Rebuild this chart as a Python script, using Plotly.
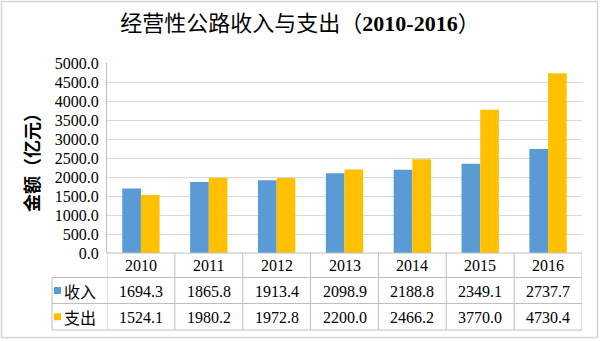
import plotly.graph_objects as go

years = ["2010", "2011", "2012", "2013", "2014", "2015", "2016"]
income = [1694.3, 1865.8, 1913.4, 2098.9, 2188.8, 2349.1, 2737.7]
expense = [1524.1, 1980.2, 1972.8, 2200.0, 2466.2, 3770.0, 4730.4]
series_names = ["收入", "支出"]
colors = ["#5B9BD5", "#FFC000"]
yticks = [0, 500, 1000, 1500, 2000, 2500, 3000, 3500, 4000, 4500, 5000]

W, H = 600, 341
L, R, T, B = 107, 18, 63, 88
PW, PH = W - L - R, H - T - B


def px(X):
    return (X - L) / PW


def py(Y):
    return (H - B - Y) / PH


serif = "Liberation Serif"
cjk = "Noto Sans CJK SC"
mixed = "Liberation Serif, Noto Sans CJK SC"

fig = go.Figure()
for name, vals, c in zip(series_names, [income, expense], colors):
    fig.add_trace(go.Bar(x=years, y=vals, name=name, marker=dict(color=c, line=dict(width=0))))

line_col = "#bfbfbf"
shapes = []
row_y = [253, 277.5, 303.5, 330]
left_x = 52
for i, yy in enumerate(row_y):
    x0 = px(L) if i == 0 else px(left_x)
    shapes.append(dict(type="line", xref="paper", yref="paper", x0=x0, x1=1, y0=py(yy), y1=py(yy),
                       line=dict(color=line_col, width=1)))
for k in range(len(years) + 1):
    shapes.append(dict(type="line", xref="x", yref="paper", x0=k - 0.5, x1=k - 0.5,
                       y0=py(row_y[0]), y1=py(row_y[-1]), line=dict(color=line_col, width=1)))
shapes.append(dict(type="line", xref="paper", yref="paper", x0=px(left_x), x1=px(left_x),
                   y0=py(row_y[1]), y1=py(row_y[-1]), line=dict(color=line_col, width=1)))
for j, c in enumerate(colors):
    yc = (row_y[j + 1] + row_y[j + 2]) / 2
    shapes.append(dict(type="rect", xref="paper", yref="paper", x0=px(54), x1=px(61),
                       y0=py(yc + 3.5), y1=py(yc - 3.5), fillcolor=c, line=dict(width=0)))
shapes.append(dict(type="rect", xref="paper", yref="paper", x0=px(1.5), x1=px(597.5),
                   y0=py(337.5), y1=py(1.5), line=dict(color="#d4d4d4", width=1.5)))

annotations = []
for i, yr in enumerate(years):
    annotations.append(dict(x=i, xref="x", yref="paper", y=py((row_y[0] + row_y[1]) / 2 + 0.5),
                            xanchor="center", yanchor="middle",
                            text=yr, showarrow=False, font=dict(family=serif, size=16, color="#000")))
    for j, vals in enumerate([income, expense]):
        annotations.append(dict(x=i, xref="x", yref="paper",
                                y=py((row_y[j + 1] + row_y[j + 2]) / 2 + 0.5),
                                xanchor="center", yanchor="middle",
                                text=f"{vals[i]:.1f}", showarrow=False,
                                font=dict(family=serif, size=16, color="#000")))
for j, n in enumerate(series_names):
    annotations.append(dict(x=px(62), xref="paper", yref="paper", xanchor="left", yanchor="middle",
                            y=py((row_y[j + 1] + row_y[j + 2]) / 2),
                            text=n, showarrow=False, font=dict(family=cjk, size=16, color="#000")))
annotations.append(dict(x=px(31), y=py(158), xref="paper", yref="paper", text="<b>金额（亿元）</b>",
                        xanchor="center", yanchor="middle",
                        textangle=-90, showarrow=False, font=dict(family=cjk, size=18, color="#000")))

fig.update_layout(
    width=W, height=H,
    margin=dict(l=L, r=R, t=T, b=B),
    paper_bgcolor="white", plot_bgcolor="white",
    barmode="group", bargap=0.45, bargroupgap=0,
    showlegend=False,
    title=dict(text="经营性公路收入与支出（<b>2010-2016</b>）", x=0.5, xanchor="center",
               y=1 - 23 / H, yanchor="middle", yref="container",
               font=dict(family=mixed, size=22, color="#000")),
    xaxis=dict(showticklabels=False, ticks="", showgrid=False, showline=False, zeroline=False,
               range=[-0.5, len(years) - 0.5]),
    yaxis=dict(range=[0, 5000], tickvals=yticks, ticktext=[f"{v:.1f}" for v in yticks],
               showgrid=True, gridcolor="#d9d9d9", gridwidth=1, zeroline=False,
               showline=True, linecolor="#bfbfbf", linewidth=1, ticks="", ticklabelstandoff=4,
               tickfont=dict(family=serif, size=16, color="#000")),
    shapes=shapes, annotations=annotations,
)

fig.write_html("out.html")
